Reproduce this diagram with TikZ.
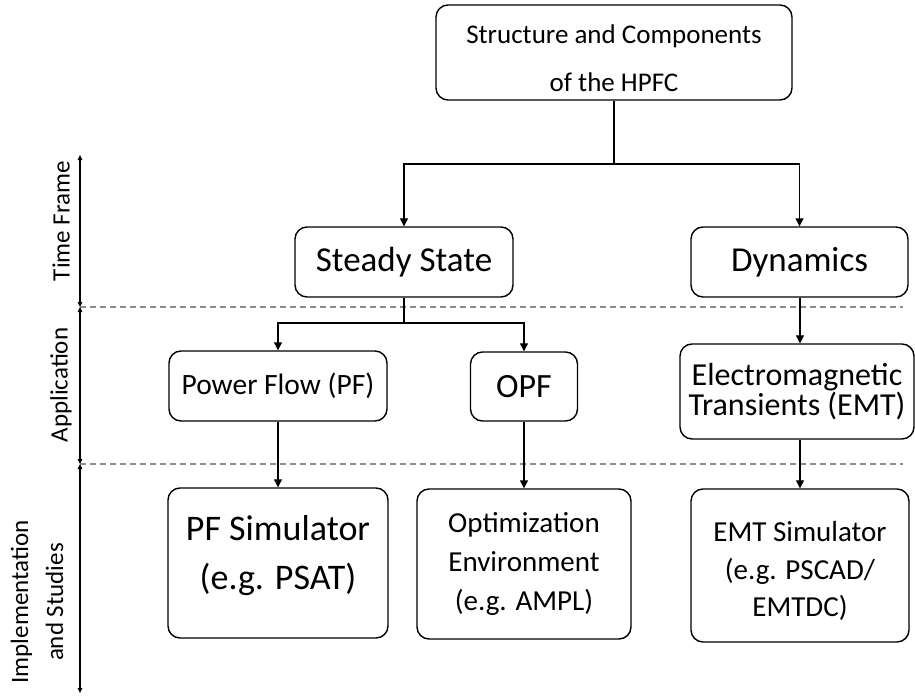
\documentclass[tikz,border=0pt]{standalone}
\usepackage{fontspec}
\setmainfont{Carlito}
\usetikzlibrary{arrows.meta}
\tikzset{
  box/.style={draw=black, line width=1.4pt, rounded corners=12pt, align=center, inner sep=0pt, fill=white},
  boxtext/.style={align=center, inner sep=0pt},
  conn/.style={draw=black, line width=1.2pt},
  arr/.style={conn, -{Triangle[length=8pt,width=8pt]}},
  axis/.style={draw=black, line width=1.1pt, {Triangle[length=5pt,width=4.5pt]}-{Triangle[length=5pt,width=4.5pt]}},
  sep/.style={draw=black!45, line width=1.2pt, dash pattern=on 6pt off 4pt},
  side/.style={rotate=90, align=center, font=\fontsize{25}{35}\selectfont}
}
\begin{document}
\begin{tikzpicture}[x=1pt,y=-1pt]
\useasboundingbox (0,0) rectangle (915,698);

% separators and axis
\coordinate (a0) at (80,155);
\coordinate (a1) at (80,307);
\coordinate (a2) at (80,464);
\coordinate (a3) at (80,693);
\coordinate (s1) at (903,307);
\coordinate (s2) at (903,464);
\draw[sep] (a1) -- (s1);
\draw[sep] (a2) -- (s2);
\draw[axis] (a0) -- (a1);
\draw[axis] (a1) -- (a2);
\draw[axis] (a2) -- (a3);

\node[side] (lt) at (61,221) {Time Frame};
\node[side] (la) at (61,385) {Application};
\node[side] (li) at (37,602) {Implementation\\and Studies};

% boxes
\node[box, minimum width=356pt, minimum height=95pt] (top) at (614,52.5) {};
\node[boxtext, font=\fontsize{27}{48}\selectfont] (toptext) at (614,58) {Structure and Components\\of the HPFC};
\node[box, minimum width=218pt, minimum height=70pt, font=\fontsize{35}{42}\selectfont] (steady) at (404,262) {Steady State};
\node[box, minimum width=217pt, minimum height=70pt, font=\fontsize{35}{42}\selectfont] (dyn) at (799.5,262) {Dynamics};
\node[box, minimum width=218pt, minimum height=70pt, font=\fontsize{29.5}{35}\selectfont] (pf) at (278,386) {Power Flow (PF)};
\node[box, minimum width=107pt, minimum height=69pt, font=\fontsize{34}{40}\selectfont] (opf) at (524,386.5) {OPF};
\node[box, minimum width=234pt, minimum height=95pt, font=\fontsize{32}{30}\selectfont] (emt) at (797,391.5) {Electromagnetic\\Transients (EMT)};
\node[box, minimum width=220pt, minimum height=150pt] (pfsim) at (278,563) {};
\node[boxtext, font=\fontsize{36}{49}\selectfont] (pfsimtext) at (278,556) {PF Simulator\\(e.g. PSAT)};
\node[box, minimum width=214pt, minimum height=150pt, font=\fontsize{29}{39}\selectfont] (optsim) at (524,564) {Optimization\\Environment\\(e.g. AMPL)};
\node[box, minimum width=218pt, minimum height=153pt] (emtsim) at (800,565.5) {};
\node[boxtext, font=\fontsize{29}{37.5}\selectfont] (emtsimtext) at (800,571) {EMT Simulator\\(e.g. PSCAD/\\EMTDC)};

% connectors
\coordinate (j1) at (614,164);
\coordinate (j2) at (404,323);
\draw[conn] (top.south) -- (j1);
\draw[arr] (j1) -| (steady.north);
\draw[arr] (j1) -| (dyn.north);
\draw[conn] (steady.south) -- (j2);
\draw[arr] (j2) -| (pf.north);
\draw[arr] (j2) -| (opf.north);
\draw[arr] (emtsim.north |- dyn.south) -- (emtsim.north |- emt.north);
\draw[arr] (pf.south) -- (pfsim.north);
\draw[arr] (opf.south) -- (optsim.north);
\draw[arr] (emtsim.north |- emt.south) -- (emtsim.north);
\end{tikzpicture}
\end{document}
